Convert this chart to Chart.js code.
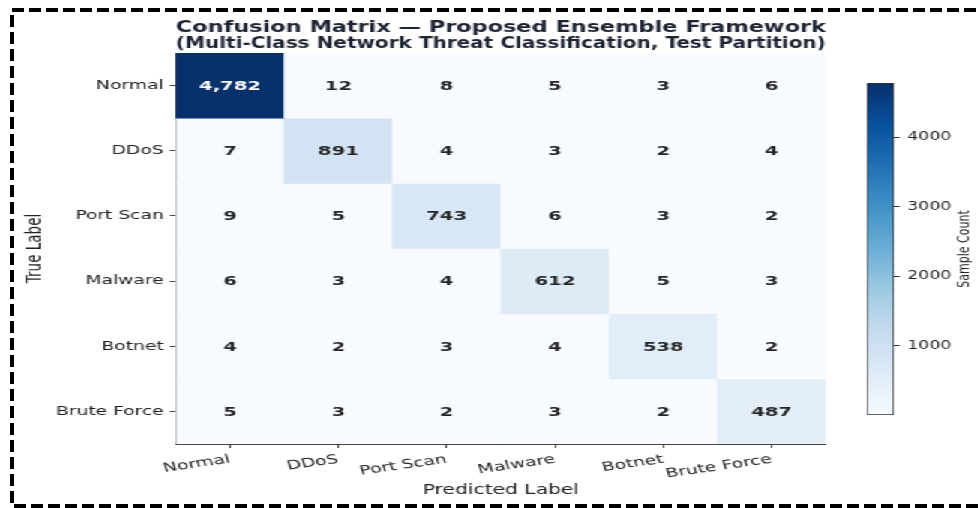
<!DOCTYPE html>
<html>
<head>
<meta charset="utf-8">
<script src="https://cdn.jsdelivr.net/npm/chart.js@4.4.1/dist/chart.umd.min.js"></script>
<style>
  html, body { margin: 0; padding: 0; background: #fff; }
  body { width: 980px; height: 508px; position: relative; overflow: hidden; }
  #stretch { position: absolute; left: 0; top: 0; width: 654px; height: 508px;
             transform: scaleX(1.5); transform-origin: 0 0; }
  #matrix { position: absolute; left: 0; top: 0; }
  #colorbar { position: absolute; left: 560px; top: 0; }
  #frame { position: absolute; left: 0; top: 0; }
</style>
</head>
<body>
<div id="stretch">
  <canvas id="matrix" width="654" height="508"></canvas>
  <canvas id="colorbar" width="94" height="508"></canvas>
</div>
<svg id="frame" width="980" height="508">
  <rect x="12" y="10" width="1000" height="496" fill="none" stroke="#000" stroke-width="4" stroke-dasharray="12 5"/>
</svg>
<script>
const predictedLabels = ['Normal', 'DDoS', 'Port Scan', 'Malware', 'Botnet', 'Brute Force'];
const trueLabels = ['Normal', 'DDoS', 'Port Scan', 'Malware', 'Botnet', 'Brute Force'];

// rows = true label, columns = predicted label
const rowNormal = [4782, 12, 8, 5, 3, 6];
const rowDDoS = [7, 891, 4, 3, 2, 4];
const rowPortScan = [9, 5, 743, 6, 3, 2];
const rowMalware = [6, 3, 4, 612, 5, 3];
const rowBotnet = [4, 2, 3, 4, 538, 2];
const rowBruteForce = [5, 3, 2, 3, 2, 487];

const colorbarTicks = [1000, 2000, 3000, 4000];
const colorMin = 2;
const colorMax = 4782;

const rows = [rowNormal, rowDDoS, rowPortScan, rowMalware, rowBotnet, rowBruteForce];

// matplotlib "Blues"
const bluesStops = ['#f7fbff', '#deebf7', '#c6dbef', '#9ecae1', '#6baed6',
                    '#4292c6', '#2171b5', '#08519c', '#08306b'];

function hexToRgb(h) {
    return [parseInt(h.slice(1, 3), 16), parseInt(h.slice(3, 5), 16), parseInt(h.slice(5, 7), 16)];
}

function blues(v) {
    let t = (v - colorMin) / (colorMax - colorMin);
    t = Math.max(0, Math.min(1, t));
    const pos = t * (bluesStops.length - 1);
    const i = Math.min(Math.floor(pos), bluesStops.length - 2);
    const f = pos - i;
    const a = hexToRgb(bluesStops[i]), b = hexToRgb(bluesStops[i + 1]);
    const c = a.map((x, k) => Math.round(x + (b[k] - x) * f));
    return 'rgb(' + c.join(',') + ')';
}

Chart.defaults.font.family = '"DejaVu Sans", "Noto Sans", sans-serif';
Chart.defaults.color = '#222';

// numbers written in the cells
const cellText = {
    id: 'cellText',
    afterDatasetsDraw(chart) {
        const ctx = chart.ctx;
        ctx.save();
        ctx.font = 'bold 13px "DejaVu Sans"';
        ctx.textAlign = 'center';
        ctx.textBaseline = 'middle';
        chart.data.datasets.forEach((ds, i) => {
            chart.getDatasetMeta(i).data.forEach((bar, j) => {
                const v = ds.counts[j];
                ctx.fillStyle = v > colorMax * 0.6 ? '#ffffff' : '#262626';
                ctx.fillText(v.toLocaleString('en-US'), bar.x, (bar.y + bar.base) / 2 + 1);
            });
        });
        ctx.restore();
    }
};

new Chart(document.getElementById('matrix'), {
    type: 'bar',
    data: {
        labels: predictedLabels,
        datasets: rows.map((counts, r) => ({
            label: trueLabels[r],
            data: counts.map(() => [r, r + 1]),
            counts: counts,
            backgroundColor: counts.map(blues),
            borderWidth: 0,
            barPercentage: 1,
            categoryPercentage: 1,
            grouped: false
        }))
    },
    options: {
        responsive: false,
        animation: false,
        layout: { padding: { left: 10, right: 103.3, top: 0, bottom: 5 } },
        plugins: {
            legend: { display: false },
            tooltip: { enabled: false },
            title: {
                display: true,
                fullSize: false,
                text: ['Confusion Matrix \u2014 Proposed Ensemble Framework',
                       '(Multi-Class Network Threat Classification, Test Partition)'],
                color: '#1c2333',
                font: { size: 15, weight: 'bold', lineHeight: '16.5px' },
                padding: { top: 19.5, bottom: 0.5 }
            }
        },
        scales: {
            x: {
                type: 'category',
                grid: { offset: false, drawOnChartArea: false, drawTicks: true, tickLength: 4, color: '#444' },
                border: { display: true, color: '#444', width: 1 },
                ticks: { autoSkip: false, minRotation: 12, maxRotation: 12, padding: 4,
                         font: { size: 12.5 }, color: '#222' },
                title: { display: true, text: 'Predicted Label', font: { size: 13.5 }, color: '#222',
                         padding: { top: 4, bottom: 4 } },
                afterFit(scale) { scale.height = 59; }
            },
            y: {
                type: 'linear',
                min: 0,
                max: 6,
                reverse: true,
                afterBuildTicks(scale) {
                    scale.ticks = trueLabels.map((_, i) => ({ value: i + 0.5 }));
                },
                grid: { drawOnChartArea: false, drawTicks: true, tickLength: 4, color: '#444' },
                border: { display: true, color: '#444', width: 1 },
                ticks: {
                    padding: 4,
                    font: { size: 12.5 },
                    color: '#222',
                    callback: (value, index) => trueLabels[index]
                },
                title: { display: true, text: 'True Label', font: { size: 13.5 }, color: '#222',
                         padding: { top: 5, bottom: 4 } },
                afterFit(scale) { scale.width = 107.3; }
            }
        }
    },
    plugins: [cellText]
});

// colour bar label, reading bottom to top
const colorbarLabel = {
    id: 'colorbarLabel',
    afterDraw(chart) {
        const s = chart.scales.y;
        const ctx = chart.ctx;
        ctx.save();
        ctx.translate(s.right - 3, (s.top + s.bottom) / 2);
        ctx.rotate(-Math.PI / 2);
        ctx.font = '11px "DejaVu Sans"';
        ctx.fillStyle = '#222';
        ctx.textAlign = 'center';
        ctx.textBaseline = 'middle';
        ctx.fillText('Sample Count', 0, 0);
        ctx.restore();
    }
};

new Chart(document.getElementById('colorbar'), {
    type: 'bar',
    data: {
        labels: ['Sample Count'],
        datasets: [{
            data: [[colorMin, colorMax]],
            backgroundColor(c) {
                const a = c.chart.chartArea;
                if (!a) return bluesStops[4];
                const g = c.chart.ctx.createLinearGradient(0, a.bottom, 0, a.top);
                bluesStops.forEach((col, k) => g.addColorStop(k / (bluesStops.length - 1), col));
                return g;
            },
            borderColor: '#333',
            borderWidth: 1,
            borderSkipped: false,
            barPercentage: 1,
            categoryPercentage: 1
        }]
    },
    options: {
        responsive: false,
        animation: false,
        layout: { padding: { left: 18, right: 8, top: 83, bottom: 93 } },
        plugins: { legend: { display: false }, tooltip: { enabled: false } },
        scales: {
            x: { display: false },
            y: {
                position: 'right',
                min: colorMin,
                max: colorMax,
                afterBuildTicks(scale) {
                    scale.ticks = colorbarTicks.map(v => ({ value: v }));
                },
                grid: { drawOnChartArea: false, drawTicks: true, tickLength: 4, color: '#333' },
                border: { display: false },
                ticks: { padding: 5, font: { size: 11.5 }, color: '#222', callback: v => String(v) },
                afterFit(scale) { scale.width = 50; }
            }
        }
    },
    plugins: [colorbarLabel]
});
</script>
</body>
</html>
